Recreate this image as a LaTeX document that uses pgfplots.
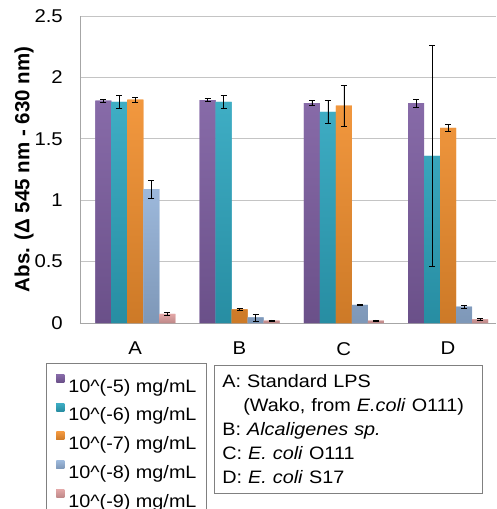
\documentclass[border=0pt]{standalone}
\usepackage{fontspec}
\setmainfont{Liberation Sans}[FakeStretch=1.1]
\newfontfamily\labfont{Liberation Sans}
\usepackage{pgfplots}
\usepackage{pgfplotstable}
\pgfplotsset{compat=1.18}
\definecolor{cpurple}{HTML}{7D5EA1}
\definecolor{cteal}{HTML}{2EA6BF}
\definecolor{corange}{HTML}{F18F2E}
\definecolor{clblue}{HTML}{94B2D8}
\definecolor{cpink}{HTML}{E0A0A0}
\definecolor{gridgray}{HTML}{C4C4C4}
\definecolor{axisgray}{HTML}{A6A6A6}
\definecolor{boxgray}{HTML}{808080}

% columns: value and error for each concentration
\pgfplotstableread{
x P Pe T Te O Oe L Le K Ke
0 1.81 0.01 1.80 0.055 1.82 0.02 1.09 0.07 0.075 0.012
1 1.815 0.012 1.80 0.055 0.11 0.01 0.045 0.03 0.02 0.005
2 1.79 0.02 1.72 0.09 1.77 0.17 0.147 0.004 0.02 0.005
3 1.79 0.03 1.36 0.90 1.59 0.03 0.133 0.015 0.03 0.005
}\absdata

\pgfplotsset{eb/.style={error bars/.cd, y dir=both, y explicit,
  error bar style={black, line width=0.5pt},
  error mark options={rotate=90, black, mark size=3pt, line width=0.5pt}},
  grad/.style={top color=#1!92!white, bottom color=#1!85!black, draw=none}}

\begin{document}
\begin{tikzpicture}
\begin{axis}[
  at={(80pt,-323pt)}, anchor=south west,
  scale only axis, width=416pt, height=307pt,
  ybar=0pt, bar width=16pt,
  xmin=-0.53, xmax=3.46, ymin=0, ymax=2.5,
  xtick={0,1,2,3}, xticklabels={A,B,C,D},
  ytick={0,0.5,1,1.5,2,2.5},
  major tick length=0pt,
  ymajorgrids, grid style={draw=gridgray, line width=0.8pt},
  axis x line*=bottom, axis y line*=left,
  axis line style={draw=axisgray, line width=0.8pt, -},
  /pgf/number format/assume math mode=true,
  tick label style={font=\fontsize{18.5}{21}\selectfont},
  yticklabel style={inner sep=0pt, xshift=-17pt},
  xticklabel style={inner sep=0pt, yshift=-19pt},
  ylabel={\labfont\bfseries\fontsize{20.5}{24}\selectfont Abs. (Δ 545 nm - 630 nm)},
  every axis y label/.style={at={(axis description cs:-0.1346,0.5)}, rotate=90, anchor=center},
  legend style={at={(axis description cs:-0.0817,-0.1303)}, anchor=north west,
    draw=boxgray, line width=0.8pt, inner xsep=10pt, inner ysep=11pt,
    row sep=7.5pt, column sep=4pt, font=\fontsize{18}{21}\selectfont,
    nodes={inner sep=0pt, text height=13pt, text depth=3.5pt}},
  legend cell align=left,
  legend image code/.code={\fill[#1] (0pt,5pt) rectangle (8pt,13pt);},
]
\addplot[fill=cpurple, grad=cpurple, eb] table[x=x, y=P, y error=Pe] {\absdata};
\addlegendentry{10\textasciicircum(-5) mg/mL}
\addplot[fill=cteal, grad=cteal, eb] table[x=x, y=T, y error=Te] {\absdata};
\addlegendentry{10\textasciicircum(-6) mg/mL}
\addplot[fill=corange, grad=corange, eb] table[x=x, y=O, y error=Oe] {\absdata};
\addlegendentry{10\textasciicircum(-7) mg/mL}
\addplot[fill=clblue, grad=clblue, eb] table[x=x, y=L, y error=Le] {\absdata};
\addlegendentry{10\textasciicircum(-8) mg/mL}
\addplot[fill=cpink, grad=cpink, eb] table[x=x, y=K, y error=Ke] {\absdata};
\addlegendentry{10\textasciicircum(-9) mg/mL}
\end{axis}
\node[draw=boxgray, line width=0.8pt, anchor=north west, minimum width=268pt,
  minimum height=128pt, text width=252pt, align=left, inner xsep=8pt, inner ysep=0pt,
  font=\fontsize{18}{24}\selectfont] at (214pt,-365pt)
  {A: Standard LPS\\\hspace*{21pt}(Wako, from \textit{E.coli} O111)\\B: \textit{Alcaligenes sp.}\\C: \textit{E. coli} O111\\D: \textit{E. coli} S17};
\pgfresetboundingbox
\path[use as bounding box] (0pt,0pt) rectangle (496pt,-509pt);
\end{tikzpicture}
\end{document}
